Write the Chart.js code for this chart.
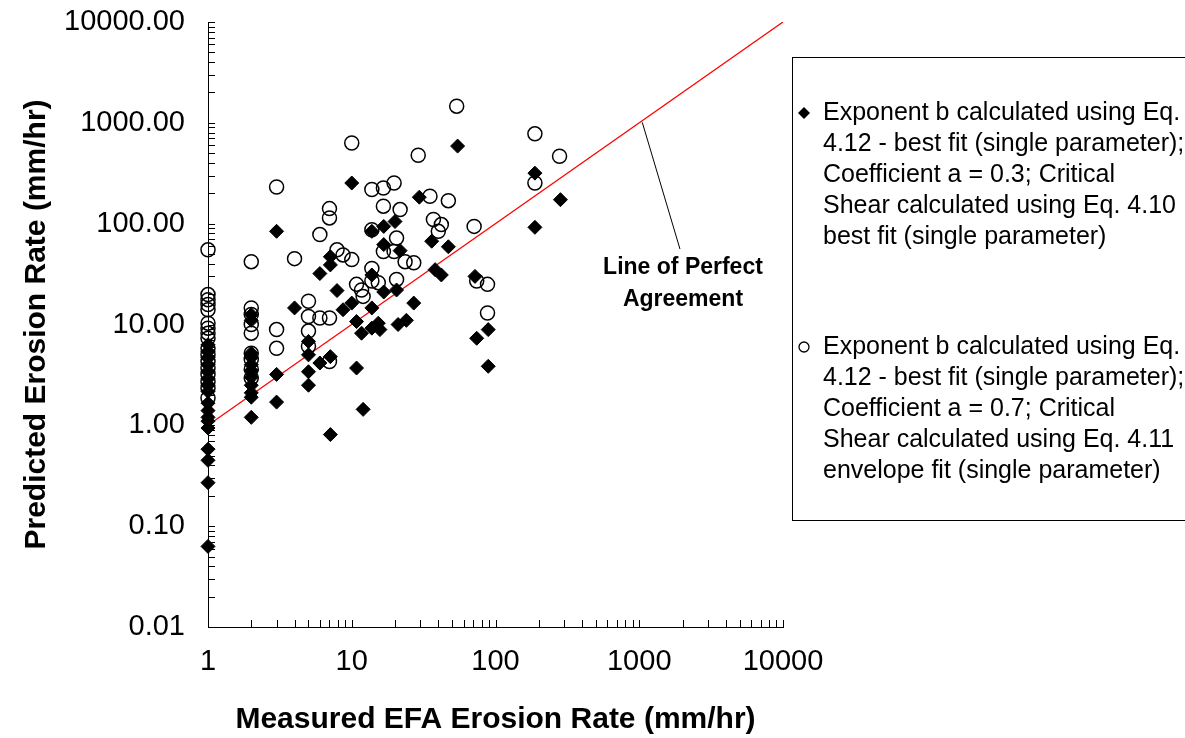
<!DOCTYPE html>
<html>
<head>
<meta charset="utf-8">
<script src="https://cdn.jsdelivr.net/npm/chart.js@4.4.0/dist/chart.umd.min.js"></script>
<style>
  html, body { margin: 0; padding: 0; background: #fff; }
</style>
</head>
<body>
<canvas id="erosionChart" width="1185" height="738"></canvas>
<script>
// filled diamonds - a = 0.3, Eq. 4.10
var diamondX = [1,1,1,1,1,1,1,1,1,1,1,1,1,1,1,1,1,
  2,2,2,2,2,2,2,2,2,2,2,
  3,3,3, 4, 5,5,5,5, 6,6, 7.1,7.1,7.1,7.1, 7.9, 8.7, 10,10, 10.8,10.8, 11.7, 12,
  13.8,13.8,13.8,13.8, 15.3, 15.7, 16.7,16.7,16.7, 20, 20.5, 21, 21.7, 24, 27, 29.5,
  36, 38, 42, 47, 54.5, 72, 74, 89,89, 188,188, 283];
var diamondY = [0.063,0.27,0.45,0.58,0.94,1.1,1.2,1.4,1.66,2.17,2.5,2.9,3.4,4.0,4.7,5.4,6.3,
  1.2,1.9,2.1,2.5,3.0,3.5,4.0,4.7,5.2,11,12.5,
  1.7,3.2,84, 14.6, 2.5,3.4,5.0,6.8, 4.15,32, 0.81,4.8,39,47, 21.7, 14, 16.3,253, 3.7,10.7, 8.2, 1.44,
  9.2,14.6,31,84, 10.3, 8.9, 21,62,94, 105, 22, 10, 54, 11, 16.3, 183,
  67, 35, 31, 59, 588, 30, 7.3, 8.9,3.85, 92,317, 173];

// open circles - a = 0.7, Eq. 4.11
var circleX = [1,1,1,1,1,1,1,1,1,1,1,1,1,1,1,1,1,
  2,2,2,2,2,2,2,2,2,
  3,3,3, 4, 5,5,5,5, 6,6, 7,7,7,7, 7.9, 8.7, 10,10, 10.8, 11.7, 12,
  13.8,13.8,13.8,13.8, 15.3, 16.6,16.6,16.6, 19.7,19.7, 20.5,20.5, 21.7, 23.5, 27, 29,
  35, 37, 40, 42, 47, 53.7, 71, 74, 88,88, 188,188, 279];
var circleY = [1.87,2.34,2.7,3.2,3.7,4.3,5.0,5.8,7.3,8.2,9.2,10.3,14,15.8,17.6,19.8,55,
  2.95,3.6,4.5,5.2,8.2,10,12.6,14.6,42,
  5.8,8.9,231, 45, 6.1,8.6,12,17, 11.6,78, 4.3,11.6,114,141, 55, 49, 44,631, 25, 22, 19,
  27,36,87,218, 26, 53,149,226, 53,253, 28,72, 138, 42, 41, 477,
  187, 110, 84, 98, 169, 1462, 94, 27, 25,13, 253,778, 466];

var perfectX = [1, 10000];
var xTicks = [1, 10, 100, 1000, 10000];
var yTicks = [0.01, 0.1, 1, 10, 100, 1000, 10000];

var legendDiamond = ['Exponent b calculated using Eq.', '4.12 - best fit (single parameter);',
  'Coefficient a = 0.3; Critical', 'Shear calculated using Eq. 4.10', 'best fit (single parameter)'];
var legendCircle = ['Exponent b calculated using Eq.', '4.12 - best fit (single parameter);',
  'Coefficient a = 0.7; Critical', 'Shear calculated using Eq. 4.11', 'envelope fit (single parameter)'];

var FONT = "'Liberation Sans', Arial, sans-serif";

function pairs(xs, ys) {
  return xs.map(function (x, i) { return { x: x, y: ys[i] }; });
}

// minor/major ticks pointing into the plot, as in the original
var tickMarks = {
  id: 'tickMarks',
  afterDraw: function (chart) {
    var ctx = chart.ctx, xs = chart.scales.x, ys = chart.scales.y, a = chart.chartArea;
    ctx.save();
    ctx.strokeStyle = '#000';
    ctx.lineWidth = 1;
    ctx.beginPath();
    for (var d = 1; d <= 10000; d *= 10) {
      for (var m = 1; m <= 9; m++) {
        var v = d * m;
        if (v > 10000) break;
        var px = Math.round(xs.getPixelForValue(v)) + 0.5;
        ctx.moveTo(px, a.bottom);
        ctx.lineTo(px, a.bottom - 7);
      }
    }
    for (var e = 0.01; e <= 10000; e *= 10) {
      for (var k = 1; k <= 9; k++) {
        var w = e * k;
        if (w > 10001) break;
        var py = Math.round(ys.getPixelForValue(w)) + 0.5;
        ctx.moveTo(a.left, py);
        ctx.lineTo(a.left + 7, py);
      }
    }
    ctx.stroke();
    ctx.restore();
  }
};

// "Line of Perfect Agreement" note and its pointer
var perfectNote = {
  id: 'perfectNote',
  afterDatasetsDraw: function (chart) {
    var ctx = chart.ctx, xs = chart.scales.x, ys = chart.scales.y;
    ctx.save();
    ctx.strokeStyle = '#000';
    ctx.lineWidth = 1;
    ctx.beginPath();
    ctx.moveTo(xs.getPixelForValue(1050), ys.getPixelForValue(1010));
    ctx.lineTo(xs.getPixelForValue(1920), ys.getPixelForValue(56));
    ctx.stroke();
    ctx.fillStyle = '#000';
    ctx.font = 'bold 23px ' + FONT;
    ctx.textAlign = 'center';
    ctx.textBaseline = 'middle';
    var cx = xs.getPixelForValue(2015);
    ctx.fillText('Line of Perfect', cx, ys.getPixelForValue(37));
    ctx.fillText('Agreement', cx, ys.getPixelForValue(17.8));
    ctx.restore();
  }
};

// boxed legend on the right, partly cut off like the source
var sideLegend = {
  id: 'sideLegend',
  afterDraw: function (chart) {
    var ctx = chart.ctx;
    ctx.save();
    ctx.strokeStyle = '#000';
    ctx.lineWidth = 1;
    ctx.strokeRect(792.5, 57.5, 420, 463);
    ctx.fillStyle = '#000';
    ctx.font = '25px ' + FONT;
    ctx.textAlign = 'left';
    ctx.textBaseline = 'middle';
    legendDiamond.forEach(function (t, i) { ctx.fillText(t, 823, 113 + i * 31); });
    legendCircle.forEach(function (t, i) { ctx.fillText(t, 823, 347 + i * 31); });
    ctx.beginPath();
    ctx.moveTo(804, 107); ctx.lineTo(810, 113); ctx.lineTo(804, 119); ctx.lineTo(798, 113);
    ctx.closePath();
    ctx.fill();
    ctx.beginPath();
    ctx.arc(804, 347, 5, 0, Math.PI * 2);
    ctx.lineWidth = 1.3;
    ctx.stroke();
    ctx.restore();
  }
};

var ctx = document.getElementById('erosionChart').getContext('2d');
var erosionChart = new Chart(ctx, {
  type: 'scatter',
  data: {
    datasets: [{
      label: 'a = 0.3',
      data: pairs(diamondX, diamondY),
      pointStyle: 'rectRot',
      pointRadius: 7,
      backgroundColor: '#000',
      borderColor: '#000',
      borderWidth: 1,
      clip: false
    }, {
      label: 'a = 0.7',
      data: pairs(circleX, circleY),
      pointStyle: 'circle',
      pointRadius: 7,
      backgroundColor: 'rgba(0,0,0,0)',
      borderColor: '#000',
      borderWidth: 1.5,
      clip: false
    }, {
      label: 'Line of Perfect Agreement',
      data: pairs(perfectX, perfectX),
      showLine: true,
      pointRadius: 0,
      borderColor: '#ff0000',
      borderWidth: 1.3
    }]
  },
  options: {
    responsive: false,
    animation: false,
    layout: { padding: { top: 22, right: 402, left: 0, bottom: 0 } },
    plugins: { legend: { display: false }, tooltip: { enabled: false } },
    scales: {
      x: {
        type: 'logarithmic',
        min: 1,
        max: 10000,
        afterBuildTicks: function (s) { s.ticks = xTicks.map(function (v) { return { value: v }; }); },
        afterFit: function (s) { s.height = 111; },
        grid: { display: false, drawTicks: false },
        border: { display: true, color: '#000', width: 1 },
        ticks: {
          color: '#000', padding: 18, maxRotation: 0, autoSkip: false,
          font: { family: FONT, size: 29 },
          callback: function (v) { return String(v); }
        },
        title: {
          display: true, text: 'Measured EFA Erosion Rate (mm/hr)', color: '#000',
          font: { family: FONT, size: 30, weight: 'bold' }, padding: { top: 0, bottom: 0 }
        }
      },
      y: {
        type: 'logarithmic',
        min: 0.01,
        max: 10000,
        afterBuildTicks: function (s) { s.ticks = yTicks.map(function (v) { return { value: v }; }); },
        afterFit: function (s) { s.width = 208; s.paddingTop = 0; s.paddingBottom = 0; },
        grid: { display: false, drawTicks: false },
        border: { display: true, color: '#000', width: 1 },
        ticks: {
          color: '#000', padding: 23, autoSkip: false,
          font: { family: FONT, size: 29 },
          callback: function (v) { return Number(v).toFixed(2); }
        },
        title: {
          display: true, text: 'Predicted Erosion Rate (mm/hr)', color: '#000',
          font: { family: FONT, size: 30, weight: 'bold' }, padding: { top: 19, bottom: 0 }
        }
      }
    }
  },
  plugins: [tickMarks, perfectNote, sideLegend]
});
</script>
</body>
</html>
